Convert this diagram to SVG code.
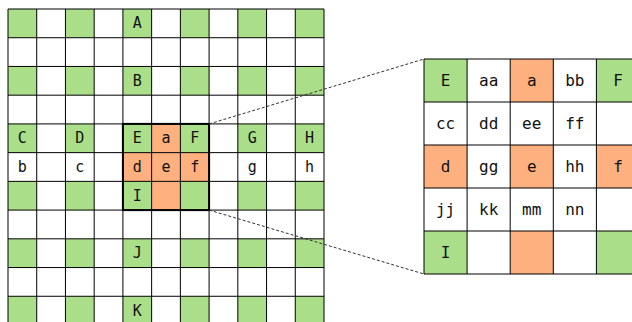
<svg xmlns="http://www.w3.org/2000/svg" width="632" height="322" viewBox="0 0 632 322">
  <style>
    .g { fill: #aade89; }
    .o { fill: #feb07e; }
    .w { fill: #ffffff; }
    .lines { fill: none; stroke: #000; stroke-width: 1; }
    .t { font-family: "DejaVu Sans Mono", "Liberation Mono", monospace; fill: #111; text-anchor: middle; dominant-baseline: central; }
    .s { font-size: 15px; }
    .l { font-size: 16px; }
    .hl { fill: none; stroke: #000; stroke-width: 2; }
    .dash { fill: none; stroke: #333; stroke-width: 1; stroke-dasharray: 3 2; }
  </style>
  <rect width="632" height="322" fill="#fff"/>

  <!-- large board: 11 x 11 cells of 28.73 px -->
  <g id="board">
    <g id="board-fills">
      <rect class="g" x="8" y="9" width="28.73" height="28.73"/>
      <rect class="g" x="65.45" y="9" width="28.73" height="28.73"/>
      <rect class="g" x="180.36" y="9" width="28.73" height="28.73"/>
      <rect class="g" x="237.82" y="9" width="28.73" height="28.73"/>
      <rect class="g" x="295.27" y="9" width="28.73" height="28.73"/>

      <rect class="g" x="8" y="66.45" width="28.73" height="28.73"/>
      <rect class="g" x="65.45" y="66.45" width="28.73" height="28.73"/>
      <rect class="g" x="180.36" y="66.45" width="28.73" height="28.73"/>
      <rect class="g" x="237.82" y="66.45" width="28.73" height="28.73"/>
      <rect class="g" x="295.27" y="66.45" width="28.73" height="28.73"/>

      <rect class="g" x="8" y="181.36" width="28.73" height="28.73"/>
      <rect class="g" x="65.45" y="181.36" width="28.73" height="28.73"/>
      <rect class="o" x="151.64" y="181.36" width="28.73" height="28.73"/>
      <rect class="g" x="180.36" y="181.36" width="28.73" height="28.73"/>
      <rect class="g" x="237.82" y="181.36" width="28.73" height="28.73"/>
      <rect class="g" x="295.27" y="181.36" width="28.73" height="28.73"/>

      <rect class="g" x="8" y="238.82" width="28.73" height="28.73"/>
      <rect class="g" x="65.45" y="238.82" width="28.73" height="28.73"/>
      <rect class="g" x="180.36" y="238.82" width="28.73" height="28.73"/>
      <rect class="g" x="237.82" y="238.82" width="28.73" height="28.73"/>
      <rect class="g" x="295.27" y="238.82" width="28.73" height="28.73"/>

      <rect class="g" x="8" y="296.27" width="28.73" height="28.73"/>
      <rect class="g" x="65.45" y="296.27" width="28.73" height="28.73"/>
      <rect class="g" x="180.36" y="296.27" width="28.73" height="28.73"/>
      <rect class="g" x="237.82" y="296.27" width="28.73" height="28.73"/>
      <rect class="g" x="295.27" y="296.27" width="28.73" height="28.73"/>
    </g>

    <g id="cell-A"><rect class="g" x="122.91" y="9" width="28.73" height="28.73"/><text class="t s" x="137.27" y="23.36">A</text></g>
    <g id="cell-B"><rect class="g" x="122.91" y="66.45" width="28.73" height="28.73"/><text class="t s" x="137.27" y="80.82">B</text></g>
    <g id="cell-C"><rect class="g" x="8" y="123.91" width="28.73" height="28.73"/><text class="t s" x="22.36" y="138.27">C</text></g>
    <g id="cell-D"><rect class="g" x="65.45" y="123.91" width="28.73" height="28.73"/><text class="t s" x="79.82" y="138.27">D</text></g>
    <g id="cell-E"><rect class="g" x="122.91" y="123.91" width="28.73" height="28.73"/><text class="t s" x="137.27" y="138.27">E</text></g>
    <g id="cell-a"><rect class="o" x="151.64" y="123.91" width="28.73" height="28.73"/><text class="t s" x="166" y="138.27">a</text></g>
    <g id="cell-F"><rect class="g" x="180.36" y="123.91" width="28.73" height="28.73"/><text class="t s" x="194.73" y="138.27">F</text></g>
    <g id="cell-G"><rect class="g" x="237.82" y="123.91" width="28.73" height="28.73"/><text class="t s" x="252.18" y="138.27">G</text></g>
    <g id="cell-H"><rect class="g" x="295.27" y="123.91" width="28.73" height="28.73"/><text class="t s" x="309.64" y="138.27">H</text></g>
    <g id="cell-b"><text class="t s" x="22.36" y="167">b</text></g>
    <g id="cell-c"><text class="t s" x="79.82" y="167">c</text></g>
    <g id="cell-d"><rect class="o" x="122.91" y="152.64" width="28.73" height="28.73"/><text class="t s" x="137.27" y="167">d</text></g>
    <g id="cell-e"><rect class="o" x="151.64" y="152.64" width="28.73" height="28.73"/><text class="t s" x="166" y="167">e</text></g>
    <g id="cell-f"><rect class="o" x="180.36" y="152.64" width="28.73" height="28.73"/><text class="t s" x="194.73" y="167">f</text></g>
    <g id="cell-g"><text class="t s" x="252.18" y="167">g</text></g>
    <g id="cell-h"><text class="t s" x="309.64" y="167">h</text></g>
    <g id="cell-I"><rect class="g" x="122.91" y="181.36" width="28.73" height="28.73"/><text class="t s" x="137.27" y="195.73">I</text></g>
    <g id="cell-J"><rect class="g" x="122.91" y="238.82" width="28.73" height="28.73"/><text class="t s" x="137.27" y="253.18">J</text></g>
    <g id="cell-K"><rect class="g" x="122.91" y="296.27" width="28.73" height="28.73"/><text class="t s" x="137.27" y="310.64">K</text></g>

    <path class="lines" d="M8 9V325M36.73 9V325M65.45 9V325M94.18 9V325M122.91 9V325M151.64 9V325M180.36 9V325M209.09 9V325M237.82 9V325M266.55 9V325M295.27 9V325M324 9V325
      M8 9H324M8 37.73H324M8 66.45H324M8 95.18H324M8 123.91H324M8 152.64H324M8 181.36H324M8 210.09H324M8 238.82H324M8 267.55H324M8 296.27H324"/>
    <rect id="selection" class="hl" x="122.91" y="123.91" width="86.18" height="86.18"/>
  </g>

  <!-- connectors from the selection to the enlarged view -->
  <g id="connectors">
    <line class="dash" x1="209.09" y1="123.91" x2="424" y2="59"/>
    <line class="dash" x1="209.09" y1="210.09" x2="424" y2="274"/>
  </g>

  <!-- enlarged view: 5 x 5 cells of 43.1 x 43 px -->
  <g id="detail">
    <rect class="w" x="424" y="59" width="215.5" height="215"/>
    <g id="z-E"><rect class="g" x="424" y="59" width="43.1" height="43"/><text class="t l" x="445.55" y="80.5">E</text></g>
    <g id="z-aa"><text class="t l" x="488.65" y="80.5">aa</text></g>
    <g id="z-a"><rect class="o" x="510.2" y="59" width="43.1" height="43"/><text class="t l" x="531.75" y="80.5">a</text></g>
    <g id="z-bb"><text class="t l" x="574.85" y="80.5">bb</text></g>
    <g id="z-F"><rect class="g" x="596.4" y="59" width="43.1" height="43"/><text class="t l" x="617.95" y="80.5">F</text></g>

    <g id="z-cc"><text class="t l" x="445.55" y="123.5">cc</text></g>
    <g id="z-dd"><text class="t l" x="488.65" y="123.5">dd</text></g>
    <g id="z-ee"><text class="t l" x="531.75" y="123.5">ee</text></g>
    <g id="z-ff"><text class="t l" x="574.85" y="123.5">ff</text></g>

    <g id="z-d"><rect class="o" x="424" y="145" width="43.1" height="43"/><text class="t l" x="445.55" y="166.5">d</text></g>
    <g id="z-gg"><text class="t l" x="488.65" y="166.5">gg</text></g>
    <g id="z-e"><rect class="o" x="510.2" y="145" width="43.1" height="43"/><text class="t l" x="531.75" y="166.5">e</text></g>
    <g id="z-hh"><text class="t l" x="574.85" y="166.5">hh</text></g>
    <g id="z-f"><rect class="o" x="596.4" y="145" width="43.1" height="43"/><text class="t l" x="617.95" y="166.5">f</text></g>

    <g id="z-jj"><text class="t l" x="445.55" y="209.5">jj</text></g>
    <g id="z-kk"><text class="t l" x="488.65" y="209.5">kk</text></g>
    <g id="z-mm"><text class="t l" x="531.75" y="209.5">mm</text></g>
    <g id="z-nn"><text class="t l" x="574.85" y="209.5">nn</text></g>

    <g id="z-I"><rect class="g" x="424" y="231" width="43.1" height="43"/><text class="t l" x="445.55" y="252.5">I</text></g>
    <rect class="o" x="510.2" y="231" width="43.1" height="43"/>
    <rect class="g" x="596.4" y="231" width="43.1" height="43"/>

    <path class="lines" d="M424 59V274M467.1 59V274M510.2 59V274M553.3 59V274M596.4 59V274
      M424 59H640M424 102H640M424 145H640M424 188H640M424 231H640M424 274H640"/>
  </g>
</svg>
